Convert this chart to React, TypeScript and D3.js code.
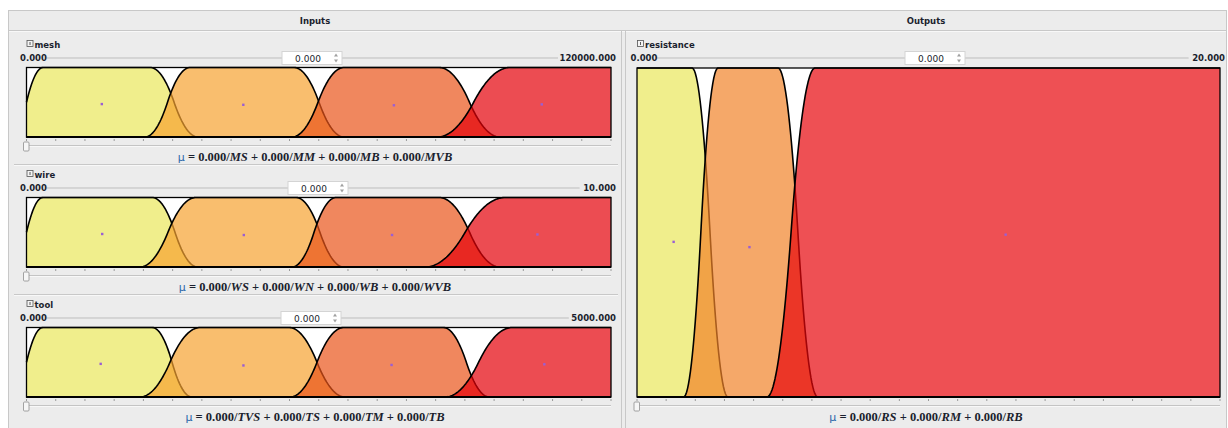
import React from 'react'
import * as d3 from 'd3'

// variables and their universes
const inputNames = ['mesh', 'wire', 'tool']
const inputRanges: [number, number][] = [[0, 120000], [0, 10], [0, 5000]]
const inputTerms = [
  ['MS', 'MM', 'MB', 'MVB'],
  ['WS', 'WN', 'WB', 'WVB'],
  ['TVS', 'TS', 'TM', 'TB'],
]

// pi-shaped terms: [foot, shoulder, shoulder, foot]
const meshShapes = [
  [-3400, 3400, 25400, 35200],
  [24300, 33600, 54900, 65200],
  [54500, 65200, 84700, 97200],
  [84300, 99300, 125000, 130000],
]
const wireShapes = [
  [-0.28, 0.28, 2.15, 2.93],
  [1.94, 2.9, 4.61, 5.43],
  [4.54, 5.3, 7.06, 8.1],
  [6.82, 8.19, 10.5, 11],
]
const toolShapes = [
  [-140, 140, 1075, 1415],
  [970, 1485, 2245, 2725],
  [2255, 2715, 3565, 3960],
  [3580, 4155, 5200, 5400],
]
const inputShapes = [meshShapes, wireShapes, toolShapes]

const outputName = 'resistance'
const outputRange: [number, number] = [0, 20]
const outputTerms = ['RS', 'RM', 'RB']
const resistanceShapes = [
  [-2, -1, 1.89, 3.12],
  [1.6, 2.78, 4.84, 6.2],
  [4.46, 6.11, 25, 26],
]

const currentValue = 0
const degrees = 0

// raw term colours, painted at 0.7 alpha like the original widget
const inputColors = ['#eae75b', '#f6a230', '#e9541a', '#e40008']
const outputColors = ['#eae75b', '#f1832a', '#e7050c']

const ink = '#1b1f2e'
const frame = '#c8c8c8'
const sans = 'DejaVu Sans, Verdana, sans-serif'
const serif = 'Liberation Serif, DejaVu Serif, serif'

const sShape = (v: number, a: number, b: number) => {
  if (v <= a) return 0
  if (v >= b) return 1
  const t = (v - a) / (b - a)
  return t <= 0.5 ? 2 * t * t : 1 - 2 * (1 - t) * (1 - t)
}
const piShape = (v: number, s: number[]) => sShape(v, s[0], s[1]) * (1 - sShape(v, s[2], s[3]))

interface VarProps {
  name: string
  range: [number, number]
  terms: string[]
  shapes: number[][]
  colors: string[]
  x0: number
  x1: number
  labelY: number
  plotTop: number
  plotBottom: number
  spinX: number
  center: number
}

function Variable({ name, range, terms, shapes, colors, x0, x1, labelY, plotTop, plotBottom, spinX, center }: VarProps) {
  const x = d3.scaleLinear().domain(range).range([x0, x1])
  const y = d3.scaleLinear().domain([0, 1]).range([plotBottom, plotTop])
  const samples = d3.range(0, 601).map(i => range[0] + ((range[1] - range[0]) * i) / 600)
  const rowY = labelY + 13
  const fmt = d3.format('.3f')
  const maxLabel = fmt(range[1])

  return (
    <g>
      {/* title with little collapse icon */}
      <rect x={x0 + 0.5} y={labelY - 4.5} width={6} height={6} fill="#f4f4f4" stroke="#555" strokeWidth={0.8} />
      <line x1={x0 + 3.5} x2={x0 + 3.5} y1={labelY - 3} y2={labelY} stroke="#333" strokeWidth={0.8} />
      <text x={x0 + 8} y={labelY + 3} fontFamily={sans} fontSize={8.5} fontWeight="bold" fill={ink}>{name}</text>

      {/* range row with slider line and spin box */}
      <line x1={x0 + 20} x2={x1 + 1 - maxLabel.length * 5.4} y1={rowY} y2={rowY} stroke="#bdbdbd" strokeWidth={1} />
      <text x={x0 - 6.5} y={rowY + 3} fontFamily={sans} fontSize={8.5} fontWeight="bold" fill={ink}>{fmt(range[0])}</text>
      <text x={x1 + 5} y={rowY + 3} textAnchor="end" fontFamily={sans} fontSize={8.5} fontWeight="bold" fill={ink}>{maxLabel}</text>
      <rect x={spinX} y={rowY - 6.5} width={60} height={13} fill="#fff" stroke="#d4d4d4" />
      <text x={spinX + 26} y={rowY + 3.5} textAnchor="middle" fontFamily={sans} fontSize={9} fill={ink}>{fmt(currentValue)}</text>
      <path d={`M${spinX + 52},${rowY - 1.5} l2,-3 l2,3 Z M${spinX + 52},${rowY + 1.5} l2,3 l2,-3 Z`} fill="#a0a0a0" />

      {/* membership functions */}
      <rect x={x0} y={plotTop} width={x1 - x0} height={plotBottom - plotTop} fill="#fff" />
      {shapes.map((s, i) => {
        const f = (v: number) => piShape(v, s)
        const area = d3.area<number>().x(v => x(v)).y0(plotBottom).y1(v => y(f(v)))
        const line = d3.line<number>().x(v => x(v)).y(v => y(f(v)))
        const mass = d3.sum(samples, f)
        const cx = d3.sum(samples, v => v * f(v)) / mass
        const cy = d3.sum(samples, v => (f(v) * f(v)) / 2) / mass
        return (
          <g key={terms[i]}>
            <path d={area(samples) ?? ''} fill={colors[i]} fillOpacity={0.7} />
            <path d={line(samples) ?? ''} fill="none" stroke="#000" strokeWidth={1.6} strokeLinejoin="round" />
            <rect x={x(cx) - 1.2} y={y(cy) - 1.2} width={2.4} height={2.4} fill="#9a5fd4" />
          </g>
        )
      })}
      <rect x={x0} y={plotTop} width={x1 - x0} height={plotBottom - plotTop} fill="none" stroke="#000" strokeWidth={1.3} />
      <line x1={x0} x2={x1} y1={plotBottom} y2={plotBottom} stroke="#000" strokeWidth={2.2} />

      {/* ticks and slider */}
      {d3.range(21).map(i => {
        const tx = x(range[0] + ((range[1] - range[0]) * i) / 20)
        return <line key={i} x1={tx} x2={tx} y1={plotBottom + 2} y2={plotBottom + 4} stroke="#9a9a9a" />
      })}
      <line x1={x0} x2={x1} y1={plotBottom + 8.5} y2={plotBottom + 8.5} stroke="#c4c4c4" />
      <line x1={x0} x2={x1} y1={plotBottom + 9.5} y2={plotBottom + 9.5} stroke="#f8f8f8" />
      <rect x={x0 - 3} y={plotBottom + 5} width={5.5} height={9} rx={1} fill="#f6f6f6" stroke="#8e8e8e" strokeWidth={0.8} />

      {/* membership degrees */}
      <text x={center} y={plotBottom + 24} textAnchor="middle" fontFamily={serif} fontSize={12.5} fontWeight="bold" fill={ink}>
        <tspan fontFamily={sans} fontWeight="normal" fontSize={11} fill="#2a64a8">μ</tspan>
        {' = '}
        {terms.map((t, i) => (
          <React.Fragment key={t}>
            {i > 0 ? '  +  ' : ''}
            {fmt(degrees)}/<tspan fontStyle="italic">{t}</tspan>
          </React.Fragment>
        ))}
      </text>
    </g>
  )
}

const inputSpin = [282, 288, 281]

export default function App() {
  const W = 1228
  const H = 428
  return (
    <svg width={W} height={H} style={{ position: 'absolute', left: 0, top: 0, background: '#fff' }} xmlSpace="preserve">
      <rect x={8.5} y={10.5} width={1218} height={430} fill="#ececec" stroke={frame} />
      <line x1={8.5} x2={1226.5} y1={30.5} y2={30.5} stroke={frame} />
      <line x1={9} x2={1226} y1={31.5} y2={31.5} stroke="#f8f8f8" />
      <line x1={621.5} x2={621.5} y1={31} y2={428} stroke={frame} />
      <line x1={625.5} x2={625.5} y1={31} y2={428} stroke={frame} />
      <text x={315} y={24} textAnchor="middle" fontFamily={sans} fontSize={8.5} fontWeight="bold" fill={ink}>Inputs</text>
      <text x={926} y={24} textAnchor="middle" fontFamily={sans} fontSize={8.5} fontWeight="bold" fill={ink}>Outputs</text>

      {inputNames.map((n, k) => {
        const off = k * 130
        return (
          <g key={n}>
            <Variable
              name={n}
              range={inputRanges[k]}
              terms={inputTerms[k]}
              shapes={inputShapes[k]}
              colors={inputColors}
              x0={26.5}
              x1={611}
              labelY={45 + off}
              plotTop={67.5 + off}
              plotBottom={137 + off}
              spinX={inputSpin[k]}
              center={315}
            />
            {k < 2 && (
              <g>
                <line x1={14} x2={618} y1={164.5 + off} y2={164.5 + off} stroke={frame} />
                <line x1={14} x2={618} y1={165.5 + off} y2={165.5 + off} stroke="#f8f8f8" />
              </g>
            )}
          </g>
        )
      })}

      <Variable
        name={outputName}
        range={outputRange}
        terms={outputTerms}
        shapes={resistanceShapes}
        colors={outputColors}
        x0={637}
        x1={1220}
        labelY={45}
        plotTop={68}
        plotBottom={397}
        spinX={905}
        center={926}
      />
    </svg>
  )
}
